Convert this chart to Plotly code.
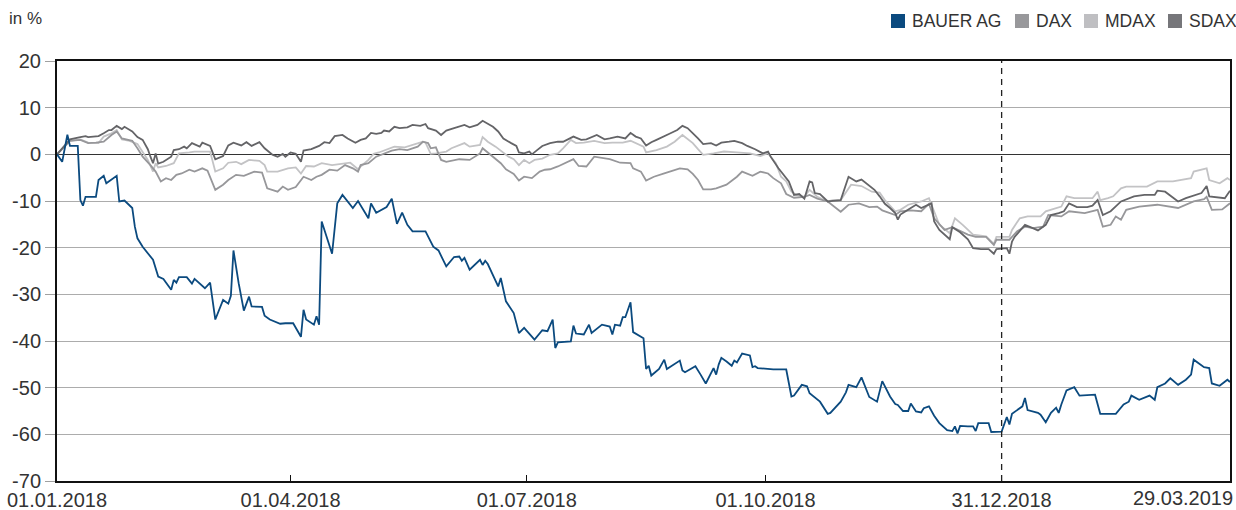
import plotly.graph_objects as go

# ---------------- data (performance in %, relative to 01.01.2018) ----------------
BAUER_AG = [
    ("2018-01-01", 0.0), ("2018-01-03", -1.6), ("2018-01-05", 4.2), ("2018-01-06", 1.8),
    ("2018-01-09", 1.8), ("2018-01-10", -9.8), ("2018-01-11", -11.0), ("2018-01-12", -9.1),
    ("2018-01-16", -9.1), ("2018-01-17", -5.5), ("2018-01-19", -4.6), ("2018-01-20", -6.2),
    ("2018-01-24", -4.6), ("2018-01-25", -10.1), ("2018-01-27", -9.9), ("2018-01-30", -11.5),
    ("2018-01-31", -15.5), ("2018-02-01", -18.0), ("2018-02-03", -19.8), ("2018-02-07", -22.6),
    ("2018-02-09", -26.2), ("2018-02-11", -26.7), ("2018-02-14", -29.0), ("2018-02-15", -26.9),
    ("2018-02-16", -27.5), ("2018-02-17", -26.3), ("2018-02-20", -26.3), ("2018-02-22", -27.7),
    ("2018-02-23", -26.7), ("2018-02-27", -28.7), ("2018-03-01", -27.5), ("2018-03-03", -35.4),
    ("2018-03-06", -31.2), ("2018-03-08", -32.0), ("2018-03-09", -30.3), ("2018-03-10", -20.6),
    ("2018-03-12", -27.6), ("2018-03-14", -33.5), ("2018-03-16", -30.5), ("2018-03-17", -32.6),
    ("2018-03-21", -32.7), ("2018-03-22", -34.6), ("2018-03-24", -35.4), ("2018-03-28", -36.3),
    ("2018-03-30", -36.2), ("2018-04-02", -36.2), ("2018-04-05", -39.1), ("2018-04-06", -33.3),
    ("2018-04-07", -35.4), ("2018-04-10", -36.5), ("2018-04-11", -34.7), ("2018-04-12", -36.5),
    ("2018-04-13", -14.4), ("2018-04-17", -21.3), ("2018-04-19", -10.5), ("2018-04-21", -8.7),
    ("2018-04-25", -11.5), ("2018-04-27", -10.0), ("2018-05-01", -13.7), ("2018-05-02", -10.5),
    ("2018-05-04", -12.5), ("2018-05-08", -11.3), ("2018-05-10", -9.5), ("2018-05-12", -14.9),
    ("2018-05-14", -12.5), ("2018-05-16", -15.1), ("2018-05-18", -16.5), ("2018-05-23", -16.5),
    ("2018-05-26", -19.8), ("2018-05-28", -20.6), ("2018-05-31", -24.0), ("2018-06-03", -22.0),
    ("2018-06-05", -21.9), ("2018-06-06", -22.8), ("2018-06-07", -22.2), ("2018-06-09", -24.7),
    ("2018-06-13", -22.6), ("2018-06-14", -23.7), ("2018-06-15", -22.8), ("2018-06-16", -23.5),
    ("2018-06-20", -28.3), ("2018-06-21", -26.5), ("2018-06-23", -31.5), ("2018-06-26", -34.0),
    ("2018-06-28", -38.3), ("2018-06-30", -37.2), ("2018-07-04", -39.7), ("2018-07-07", -37.7),
    ("2018-07-09", -37.9), ("2018-07-11", -35.4), ("2018-07-12", -41.5), ("2018-07-13", -40.3),
    ("2018-07-18", -40.1), ("2018-07-19", -36.7), ("2018-07-20", -38.4), ("2018-07-23", -38.6),
    ("2018-07-25", -36.5), ("2018-07-26", -38.3), ("2018-07-30", -36.5), ("2018-08-02", -36.9),
    ("2018-08-03", -38.6), ("2018-08-04", -36.5), ("2018-08-06", -36.7), ("2018-08-07", -34.9),
    ("2018-08-08", -34.9), ("2018-08-10", -31.7), ("2018-08-11", -38.1), ("2018-08-15", -39.4),
    ("2018-08-16", -46.0), ("2018-08-17", -45.3), ("2018-08-18", -47.4), ("2018-08-21", -46.0),
    ("2018-08-23", -44.0), ("2018-08-24", -46.0), ("2018-08-29", -44.2), ("2018-08-30", -46.3),
    ("2018-08-31", -46.7), ("2018-09-04", -45.4), ("2018-09-06", -47.2), ("2018-09-08", -49.1),
    ("2018-09-11", -45.8), ("2018-09-12", -47.2), ("2018-09-13", -45.0), ("2018-09-14", -43.6),
    ("2018-09-16", -44.4), ("2018-09-18", -45.3), ("2018-09-19", -44.2), ("2018-09-20", -44.6),
    ("2018-09-22", -42.7), ("2018-09-25", -43.1), ("2018-09-26", -45.6), ("2018-09-27", -45.4),
    ("2018-09-28", -45.8), ("2018-10-02", -46.0), ("2018-10-04", -46.1), ("2018-10-09", -46.1),
    ("2018-10-11", -51.9), ("2018-10-12", -51.7), ("2018-10-15", -49.4), ("2018-10-17", -49.7),
    ("2018-10-18", -51.2), ("2018-10-22", -53.0), ("2018-10-25", -55.6), ("2018-10-26", -55.4),
    ("2018-10-30", -53.0), ("2018-11-01", -51.0), ("2018-11-02", -49.4), ("2018-11-05", -49.9),
    ("2018-11-07", -47.8), ("2018-11-10", -52.0), ("2018-11-13", -53.0), ("2018-11-15", -48.6),
    ("2018-11-18", -51.9), ("2018-11-20", -53.5), ("2018-11-21", -53.7), ("2018-11-23", -55.0),
    ("2018-11-25", -55.0), ("2018-11-26", -53.4), ("2018-11-28", -55.1), ("2018-11-30", -55.3),
    ("2018-12-01", -54.4), ("2018-12-03", -54.0), ("2018-12-05", -56.0), ("2018-12-07", -57.6),
    ("2018-12-10", -59.1), ("2018-12-12", -59.3), ("2018-12-13", -58.3), ("2018-12-14", -59.8),
    ("2018-12-15", -58.2), ("2018-12-18", -58.3), ("2018-12-20", -58.3), ("2018-12-21", -59.3),
    ("2018-12-22", -57.6), ("2018-12-26", -57.6), ("2018-12-27", -59.5), ("2018-12-31", -59.4),
    ("2019-01-02", -56.3), ("2019-01-03", -57.9), ("2019-01-04", -55.6), ("2019-01-08", -54.0),
    ("2019-01-09", -52.2), ("2019-01-10", -54.8), ("2019-01-14", -55.4), ("2019-01-15", -55.8),
    ("2019-01-17", -57.4), ("2019-01-19", -55.4), ("2019-01-21", -54.3), ("2019-01-22", -55.4),
    ("2019-01-23", -53.6), ("2019-01-25", -50.6), ("2019-01-28", -49.9), ("2019-01-30", -51.7),
    ("2019-02-05", -51.5), ("2019-02-07", -55.6), ("2019-02-13", -55.6), ("2019-02-16", -53.6),
    ("2019-02-18", -53.0), ("2019-02-19", -51.7), ("2019-02-22", -52.6), ("2019-02-26", -51.7),
    ("2019-02-28", -52.6), ("2019-03-01", -49.9), ("2019-03-04", -49.1), ("2019-03-06", -48.0),
    ("2019-03-09", -49.4), ("2019-03-12", -48.3), ("2019-03-14", -47.2), ("2019-03-15", -44.0),
    ("2019-03-19", -45.6), ("2019-03-21", -45.8), ("2019-03-22", -49.1), ("2019-03-25", -49.6),
    ("2019-03-27", -48.6), ("2019-03-28", -48.3), ("2019-03-29", -48.8),
]

DAX = [
    ("2018-01-01", 0.0), ("2018-01-06", 2.9), ("2018-01-10", 3.1), ("2018-01-13", 2.4),
    ("2018-01-16", 2.5), ("2018-01-19", 2.7), ("2018-01-22", 4.15), ("2018-01-24", 4.9),
    ("2018-01-26", 3.4), ("2018-01-30", 2.9), ("2018-02-01", 1.3), ("2018-02-03", -0.5),
    ("2018-02-06", -2.3), ("2018-02-08", -3.7), ("2018-02-10", -5.8), ("2018-02-12", -5.1),
    ("2018-02-14", -5.5), ("2018-02-16", -4.4), ("2018-02-18", -4.1), ("2018-02-21", -3.3),
    ("2018-02-23", -3.7), ("2018-02-26", -3.0), ("2018-02-28", -3.5), ("2018-03-03", -7.6),
    ("2018-03-06", -6.5), ("2018-03-08", -5.5), ("2018-03-11", -4.4), ("2018-03-14", -4.6),
    ("2018-03-18", -3.7), ("2018-03-21", -3.9), ("2018-03-23", -7.3), ("2018-03-27", -8.0),
    ("2018-03-29", -6.9), ("2018-03-31", -7.6), ("2018-04-03", -7.0), ("2018-04-06", -4.8),
    ("2018-04-09", -5.5), ("2018-04-11", -4.8), ("2018-04-13", -4.4), ("2018-04-16", -3.3),
    ("2018-04-19", -3.5), ("2018-04-22", -2.3), ("2018-04-25", -3.0), ("2018-04-27", -3.7),
    ("2018-04-28", -2.3), ("2018-05-01", -1.9), ("2018-05-04", -0.5), ("2018-05-07", 0.2),
    ("2018-05-10", 0.8), ("2018-05-13", 1.1), ("2018-05-16", 0.9), ("2018-05-20", 1.65),
    ("2018-05-22", 2.7), ("2018-05-24", 2.4), ("2018-05-25", 1.3), ("2018-05-27", 1.5),
    ("2018-05-29", -1.2), ("2018-05-31", -1.6), ("2018-06-03", -1.2), ("2018-06-05", -1.05),
    ("2018-06-09", -1.2), ("2018-06-13", 0.2), ("2018-06-14", 1.3), ("2018-06-16", 0.4),
    ("2018-06-18", -0.5), ("2018-06-21", -1.9), ("2018-06-23", -3.2), ("2018-06-26", -4.2),
    ("2018-06-28", -5.6), ("2018-06-30", -4.8), ("2018-07-03", -5.1), ("2018-07-06", -3.7),
    ("2018-07-08", -3.3), ("2018-07-10", -3.2), ("2018-07-13", -2.6), ("2018-07-16", -1.9),
    ("2018-07-19", -1.05), ("2018-07-21", -2.5), ("2018-07-24", -2.6), ("2018-07-27", -0.5),
    ("2018-07-31", -0.9), ("2018-08-02", -1.05), ("2018-08-06", -1.8), ("2018-08-10", -1.9),
    ("2018-08-11", -3.0), ("2018-08-14", -3.7), ("2018-08-16", -5.6), ("2018-08-19", -4.8),
    ("2018-08-23", -4.1), ("2018-08-27", -3.3), ("2018-08-29", -3.0), ("2018-09-01", -3.2),
    ("2018-09-03", -4.2), ("2018-09-05", -5.5), ("2018-09-07", -7.5), ("2018-09-10", -7.5),
    ("2018-09-12", -7.3), ("2018-09-16", -6.5), ("2018-09-20", -4.8), ("2018-09-22", -3.7),
    ("2018-09-24", -4.1), ("2018-09-26", -4.6), ("2018-09-29", -3.7), ("2018-10-02", -4.1),
    ("2018-10-04", -5.1), ("2018-10-07", -6.2), ("2018-10-09", -8.5), ("2018-10-12", -9.3),
    ("2018-10-16", -9.1), ("2018-10-18", -8.7), ("2018-10-21", -9.5), ("2018-10-25", -10.1),
    ("2018-10-30", -12.3), ("2018-11-02", -10.8), ("2018-11-06", -10.5), ("2018-11-10", -11.3),
    ("2018-11-13", -11.2), ("2018-11-15", -12.0), ("2018-11-20", -13.0), ("2018-11-22", -12.2),
    ("2018-11-26", -12.0), ("2018-11-30", -12.2), ("2018-12-03", -10.6), ("2018-12-05", -13.7),
    ("2018-12-09", -16.2), ("2018-12-12", -15.6), ("2018-12-18", -17.2), ("2018-12-21", -17.7),
    ("2018-12-25", -17.7), ("2018-12-28", -19.4), ("2018-12-29", -18.3), ("2019-01-03", -18.3),
    ("2019-01-04", -17.7), ("2019-01-06", -16.5), ("2019-01-09", -15.5), ("2019-01-12", -15.8),
    ("2019-01-16", -15.5), ("2019-01-18", -13.0), ("2019-01-23", -13.3), ("2019-01-26", -12.2),
    ("2019-02-01", -12.6), ("2019-02-06", -11.9), ("2019-02-08", -15.5), ("2019-02-11", -15.1),
    ("2019-02-13", -13.3), ("2019-02-15", -14.0), ("2019-02-17", -11.9), ("2019-02-22", -11.2),
    ("2019-03-01", -10.8), ("2019-03-06", -11.2), ("2019-03-09", -11.5), ("2019-03-15", -10.1),
    ("2019-03-19", -9.6), ("2019-03-20", -9.1), ("2019-03-22", -11.9), ("2019-03-26", -11.8),
    ("2019-03-29", -10.5),
]

MDAX = [
    ("2018-01-01", 0.0), ("2018-01-06", 2.9), ("2018-01-10", 3.2), ("2018-01-13", 2.5),
    ("2018-01-17", 2.4), ("2018-01-19", 3.8), ("2018-01-22", 4.5), ("2018-01-24", 5.2),
    ("2018-01-26", 3.2), ("2018-01-29", 2.9), ("2018-02-01", 2.2), ("2018-02-03", 0.4),
    ("2018-02-05", -1.2), ("2018-02-07", -3.7), ("2018-02-08", -1.9), ("2018-02-09", -2.8),
    ("2018-02-12", -2.5), ("2018-02-15", -1.9), ("2018-02-17", 0.2), ("2018-02-21", 0.4),
    ("2018-02-23", 0.6), ("2018-02-26", 0.6), ("2018-03-01", 0.6), ("2018-03-03", -3.7),
    ("2018-03-06", -3.0), ("2018-03-08", -1.8), ("2018-03-11", -1.6), ("2018-03-13", -2.1),
    ("2018-03-16", -1.2), ("2018-03-20", -1.4), ("2018-03-22", -2.3), ("2018-03-23", -3.7),
    ("2018-03-27", -3.7), ("2018-03-31", -3.0), ("2018-04-03", -2.8), ("2018-04-05", -4.1),
    ("2018-04-07", -2.5), ("2018-04-10", -2.6), ("2018-04-13", -1.9), ("2018-04-17", -2.3),
    ("2018-04-21", -2.1), ("2018-04-24", -1.8), ("2018-04-27", -3.2), ("2018-04-28", -2.6),
    ("2018-05-01", -1.2), ("2018-05-03", 0.1), ("2018-05-05", 0.4), ("2018-05-09", 1.3),
    ("2018-05-11", 1.65), ("2018-05-15", 1.5), ("2018-05-18", 2.0), ("2018-05-22", 2.7),
    ("2018-05-23", 2.5), ("2018-05-25", 0.1), ("2018-05-27", 0.2), ("2018-05-31", 0.6),
    ("2018-06-02", 1.3), ("2018-06-07", 2.4), ("2018-06-09", 1.65), ("2018-06-13", 2.0),
    ("2018-06-14", 3.7), ("2018-06-16", 2.7), ("2018-06-19", 1.65), ("2018-06-22", 0.4),
    ("2018-06-24", -0.5), ("2018-06-26", -1.05), ("2018-06-28", -2.3), ("2018-06-30", -1.2),
    ("2018-07-02", -1.9), ("2018-07-04", -1.2), ("2018-07-07", -0.9), ("2018-07-10", -0.1),
    ("2018-07-13", 0.2), ("2018-07-15", 1.3), ("2018-07-18", 3.1), ("2018-07-20", 2.4),
    ("2018-07-23", 2.5), ("2018-07-27", 2.9), ("2018-07-31", 2.4), ("2018-08-03", 2.5),
    ("2018-08-07", 2.5), ("2018-08-10", 2.9), ("2018-08-12", 2.4), ("2018-08-15", 1.65),
    ("2018-08-16", 0.4), ("2018-08-20", 0.9), ("2018-08-24", 1.65), ("2018-08-27", 2.7),
    ("2018-08-30", 4.15), ("2018-09-01", 3.2), ("2018-09-03", 2.4), ("2018-09-05", 1.1),
    ("2018-09-07", -0.1), ("2018-09-11", 0.2), ("2018-09-15", 0.6), ("2018-09-20", 0.4),
    ("2018-09-25", 0.2), ("2018-09-29", -0.35), ("2018-10-02", 0.2), ("2018-10-05", -1.9),
    ("2018-10-07", -4.8), ("2018-10-09", -5.8), ("2018-10-11", -8.0), ("2018-10-13", -8.7),
    ("2018-10-16", -9.1), ("2018-10-18", -7.6), ("2018-10-21", -9.1), ("2018-10-25", -10.1),
    ("2018-10-27", -9.8), ("2018-10-30", -9.8), ("2018-11-03", -6.5), ("2018-11-07", -6.8),
    ("2018-11-11", -8.0), ("2018-11-14", -8.2), ("2018-11-16", -9.8), ("2018-11-20", -12.2),
    ("2018-11-22", -11.9), ("2018-11-25", -10.8), ("2018-11-30", -10.1), ("2018-12-03", -9.4),
    ("2018-12-05", -12.2), ("2018-12-07", -15.1), ("2018-12-11", -16.9), ("2018-12-13", -13.7),
    ("2018-12-16", -15.1), ("2018-12-20", -17.2), ("2018-12-25", -17.6), ("2018-12-28", -19.2),
    ("2018-12-29", -17.7), ("2019-01-03", -17.7), ("2019-01-04", -16.2), ("2019-01-07", -13.7),
    ("2019-01-10", -13.3), ("2019-01-15", -13.3), ("2019-01-17", -12.2), ("2019-01-23", -11.2),
    ("2019-01-25", -9.0), ("2019-01-28", -9.4), ("2019-02-02", -9.4), ("2019-02-04", -9.4),
    ("2019-02-06", -8.0), ("2019-02-07", -9.8), ("2019-02-10", -9.4), ("2019-02-12", -9.0),
    ("2019-02-15", -7.3), ("2019-02-17", -6.9), ("2019-02-25", -6.9), ("2019-03-01", -5.8),
    ("2019-03-07", -5.8), ("2019-03-14", -5.1), ("2019-03-15", -3.7), ("2019-03-19", -3.2),
    ("2019-03-20", -3.0), ("2019-03-21", -5.5), ("2019-03-25", -6.2), ("2019-03-28", -5.1),
    ("2019-03-29", -5.5),
]

SDAX = [
    ("2018-01-01", 0.0), ("2018-01-06", 3.2), ("2018-01-10", 3.7), ("2018-01-12", 3.9),
    ("2018-01-13", 3.7), ("2018-01-17", 3.9), ("2018-01-19", 4.5), ("2018-01-21", 5.2),
    ("2018-01-22", 5.2), ("2018-01-24", 6.1), ("2018-01-26", 5.4), ("2018-01-27", 5.9),
    ("2018-01-30", 4.9), ("2018-02-01", 3.7), ("2018-02-03", 3.1), ("2018-02-05", 1.1),
    ("2018-02-06", -0.5), ("2018-02-07", -1.9), ("2018-02-08", 0.2), ("2018-02-09", -2.0),
    ("2018-02-11", -1.6), ("2018-02-14", -0.5), ("2018-02-15", 0.9), ("2018-02-17", 1.1),
    ("2018-02-19", 1.65), ("2018-02-20", 1.3), ("2018-02-22", 2.4), ("2018-02-25", 1.65),
    ("2018-02-26", 2.5), ("2018-03-01", 1.8), ("2018-03-03", -1.05), ("2018-03-06", -0.35),
    ("2018-03-08", 1.9), ("2018-03-10", 2.5), ("2018-03-13", 1.9), ("2018-03-15", 2.6),
    ("2018-03-17", 1.8), ("2018-03-20", 2.6), ("2018-03-22", 1.3), ("2018-03-25", -0.1),
    ("2018-03-27", -0.5), ("2018-03-29", 0.1), ("2018-03-30", -0.5), ("2018-04-01", 0.4),
    ("2018-04-03", 0.1), ("2018-04-05", -1.6), ("2018-04-06", 0.8), ("2018-04-09", 1.1),
    ("2018-04-12", 1.8), ("2018-04-14", 2.6), ("2018-04-16", 2.4), ("2018-04-18", 3.9),
    ("2018-04-21", 4.15), ("2018-04-23", 3.4), ("2018-04-26", 2.5), ("2018-04-28", 3.1),
    ("2018-04-30", 3.4), ("2018-05-02", 4.6), ("2018-05-04", 4.4), ("2018-05-06", 4.6),
    ("2018-05-07", 5.1), ("2018-05-09", 4.9), ("2018-05-11", 5.9), ("2018-05-13", 5.6),
    ("2018-05-16", 5.8), ("2018-05-18", 6.3), ("2018-05-21", 6.1), ("2018-05-23", 6.5),
    ("2018-05-24", 5.6), ("2018-05-27", 5.1), ("2018-05-29", 4.15), ("2018-05-31", 5.1),
    ("2018-06-03", 5.6), ("2018-06-07", 6.3), ("2018-06-09", 5.8), ("2018-06-12", 6.3),
    ("2018-06-14", 7.2), ("2018-06-16", 6.6), ("2018-06-18", 5.9), ("2018-06-20", 4.9),
    ("2018-06-22", 3.4), ("2018-06-25", 2.4), ("2018-06-27", 1.8), ("2018-06-28", 0.4),
    ("2018-06-30", 0.2), ("2018-07-02", 0.6), ("2018-07-03", 0.0), ("2018-07-05", 0.9),
    ("2018-07-07", 1.8), ("2018-07-10", 2.4), ("2018-07-13", 2.7), ("2018-07-15", 2.7),
    ("2018-07-19", 3.8), ("2018-07-22", 3.1), ("2018-07-24", 3.2), ("2018-07-28", 4.15),
    ("2018-07-31", 3.2), ("2018-08-02", 3.4), ("2018-08-05", 3.8), ("2018-08-08", 3.4),
    ("2018-08-10", 4.6), ("2018-08-12", 3.8), ("2018-08-14", 3.4), ("2018-08-16", 1.9),
    ("2018-08-18", 2.6), ("2018-08-20", 3.1), ("2018-08-23", 3.8), ("2018-08-25", 4.4),
    ("2018-08-28", 5.2), ("2018-08-30", 6.1), ("2018-09-01", 5.6), ("2018-09-03", 4.6),
    ("2018-09-05", 3.4), ("2018-09-07", 2.2), ("2018-09-10", 2.4), ("2018-09-12", 1.9),
    ("2018-09-14", 2.5), ("2018-09-17", 2.7), ("2018-09-19", 2.9), ("2018-09-22", 2.4),
    ("2018-09-24", 1.8), ("2018-09-27", 1.1), ("2018-09-30", 0.2), ("2018-10-02", 0.6),
    ("2018-10-03", -0.5), ("2018-10-06", -3.0), ("2018-10-08", -4.4), ("2018-10-10", -5.8),
    ("2018-10-12", -8.7), ("2018-10-14", -8.5), ("2018-10-16", -9.5), ("2018-10-18", -5.8),
    ("2018-10-19", -6.0), ("2018-10-20", -8.3), ("2018-10-22", -8.5), ("2018-10-25", -10.1),
    ("2018-10-27", -9.95), ("2018-10-30", -9.8), ("2018-11-02", -4.8), ("2018-11-05", -5.8),
    ("2018-11-07", -5.4), ("2018-11-09", -6.2), ("2018-11-12", -7.6), ("2018-11-14", -9.0),
    ("2018-11-16", -10.6), ("2018-11-18", -11.5), ("2018-11-20", -12.6), ("2018-11-21", -14.0),
    ("2018-11-22", -12.9), ("2018-11-24", -12.2), ("2018-11-26", -11.5), ("2018-11-28", -10.8),
    ("2018-11-30", -11.5), ("2018-12-02", -11.0), ("2018-12-04", -10.5), ("2018-12-05", -14.4),
    ("2018-12-07", -16.2), ("2018-12-11", -18.2), ("2018-12-12", -15.6), ("2018-12-15", -16.7),
    ("2018-12-18", -18.2), ("2018-12-20", -20.1), ("2018-12-23", -20.3), ("2018-12-26", -20.3),
    ("2018-12-28", -21.3), ("2018-12-29", -20.3), ("2019-01-02", -20.1), ("2019-01-03", -21.3),
    ("2019-01-04", -18.7), ("2019-01-05", -17.7), ("2019-01-07", -16.5), ("2019-01-09", -15.1),
    ("2019-01-12", -15.8), ("2019-01-14", -16.3), ("2019-01-17", -15.1), ("2019-01-19", -13.0),
    ("2019-01-22", -12.6), ("2019-01-24", -12.2), ("2019-01-26", -10.5), ("2019-01-29", -11.3),
    ("2019-02-02", -11.3), ("2019-02-04", -11.0), ("2019-02-06", -9.8), ("2019-02-08", -13.0),
    ("2019-02-11", -12.2), ("2019-02-13", -11.2), ("2019-02-15", -10.1), ("2019-02-20", -9.0),
    ("2019-02-24", -8.7), ("2019-02-28", -8.7), ("2019-03-01", -7.8), ("2019-03-04", -8.0),
    ("2019-03-09", -10.1), ("2019-03-12", -9.4), ("2019-03-18", -8.3), ("2019-03-20", -6.8),
    ("2019-03-21", -9.0), ("2019-03-27", -9.4), ("2019-03-29", -7.8),
]

SERIES_NAMES = ["BAUER AG", "DAX", "MDAX", "SDAX"]
SERIES_DATA = {"BAUER AG": BAUER_AG, "DAX": DAX, "MDAX": MDAX, "SDAX": SDAX}
SERIES_COLORS = {"BAUER AG": "#0b4a7f", "DAX": "#97979a", "MDAX": "#c3c3c5", "SDAX": "#646467"}
LEGEND_COLORS = {"BAUER AG": "#0b4a7f", "DAX": "#98989b", "MDAX": "#bfbfc2", "SDAX": "#76767a"}

Y_TICKS = [20, 10, 0, -10, -20, -30, -40, -50, -60, -70]
X_TICK_DATES = ["2018-01-01", "2018-04-01", "2018-07-01", "2018-10-01", "2018-12-31"]
X_TICK_LABELS = ["01.01.2018", "01.04.2018", "01.07.2018", "01.10.2018", "31.12.2018"]
X_END_DATE = "2019-03-29"
X_END_LABEL = "29.03.2019"
YEAR_END_DATE = "2018-12-31"

# ---------------- layout constants (pixels) ----------------
W, H = 1236, 510
ML, MR, MT, MB = 57, 6, 61, 29
PW, PH = W - ML - MR, H - MT - MB
FONT = "Liberation Sans, Arial, Helvetica, sans-serif"
TEXT_COLOR = "#333333"


def px_x(px):
    return (px - ML) / PW


def px_y(py):
    return (H - MB - py) / PH


fig = go.Figure()

draw_order = ["MDAX", "DAX", "SDAX", "BAUER AG"]
for name in draw_order:
    pts = SERIES_DATA[name]
    fig.add_trace(go.Scatter(
        x=[p[0] for p in pts], y=[p[1] for p in pts], mode="lines", name=name,
        line=dict(color=SERIES_COLORS[name], width=1.8), showlegend=False,
        hoverinfo="skip",
    ))

# legend: square swatch + label, laid out right-aligned in the header
legend_square_left = [891, 1015, 1084, 1168]
for name, sx in zip(SERIES_NAMES, legend_square_left):
    fig.add_shape(type="rect", xref="paper", yref="paper",
                  x0=px_x(sx), x1=px_x(sx + 14), y0=px_y(28), y1=px_y(14),
                  line=dict(width=0), fillcolor=LEGEND_COLORS[name])
    fig.add_annotation(text=name, xref="paper", yref="paper", x=px_x(sx + 19), y=px_y(21),
                       xanchor="left", yanchor="middle", showarrow=False,
                       font=dict(family=FONT, size=17.5, color=TEXT_COLOR))

fig.add_shape(type="line", xref="x", yref="paper", x0=YEAR_END_DATE, x1=YEAR_END_DATE,
              y0=0, y1=1, line=dict(color="#222222", width=1.3, dash="6px,5px"))

fig.add_annotation(text="in %", xref="paper", yref="paper", x=px_x(7), y=px_y(19),
                   xanchor="left", yanchor="middle", showarrow=False,
                   font=dict(family=FONT, size=17, color=TEXT_COLOR))
fig.add_annotation(text=X_END_LABEL, xref="paper", yref="paper", x=px_x(1235), y=px_y(498),
                   xanchor="right", yanchor="middle", showarrow=False,
                   font=dict(family=FONT, size=20, color=TEXT_COLOR))

fig.update_layout(
    width=W, height=H,
    margin=dict(l=ML, r=MR, t=MT, b=MB, autoexpand=False),
    paper_bgcolor="white", plot_bgcolor="white",
    font=dict(family=FONT, color=TEXT_COLOR, size=16),
    showlegend=False,
    xaxis=dict(type="date", range=["2018-01-01", X_END_DATE], automargin=False,
               tickvals=X_TICK_DATES, ticktext=X_TICK_LABELS,
               ticks="inside", ticklen=6, tickcolor="#111111", tickwidth=1,
               showgrid=False, zeroline=False,
               showline=True, mirror=True, linecolor="#111111", linewidth=2,
               tickfont=dict(family=FONT, size=20, color=TEXT_COLOR)),
    yaxis=dict(range=[-70, 20], tickvals=Y_TICKS, ticktext=[str(v) for v in Y_TICKS],
               automargin=False,
               ticks="outside", ticklen=10, tickcolor="#a0a0a0", tickwidth=1,
               showgrid=True, gridcolor="#acacac", gridwidth=1,
               zeroline=True, zerolinecolor="#333333", zerolinewidth=1.2,
               showline=True, mirror=True, linecolor="#111111", linewidth=2,
               tickfont=dict(family=FONT, size=20, color=TEXT_COLOR)),
)

# remove the default page margin so the figure sits at the window's top-left corner
PAGE_FIX = "document.body.style.margin='0';document.body.style.padding='0';document.body.style.overflow='hidden';"
fig.write_html("out.html", post_script=PAGE_FIX, config={"displayModeBar": False, "staticPlot": True})
